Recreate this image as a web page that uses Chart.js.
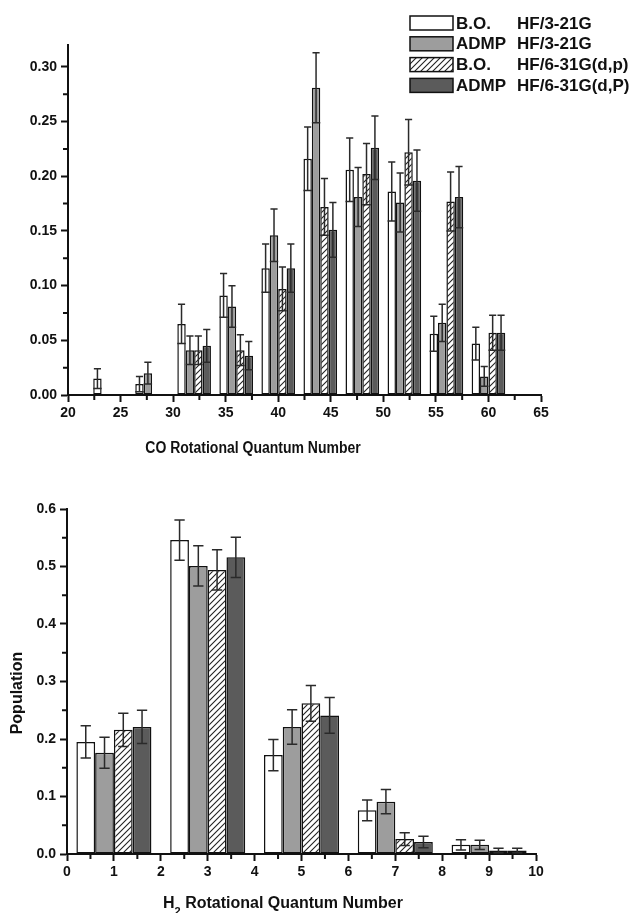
<!DOCTYPE html>
<html>
<head>
<meta charset="utf-8">
<script src="https://cdn.jsdelivr.net/npm/chart.js@4"></script>
<style>
  html, body { margin: 0; padding: 0; background: #fff; }
  #wrap { position: relative; width: 631px; height: 913px; }
  canvas { position: absolute; left: 0; }
  #coCanvas { top: 0; }
  #h2Canvas { top: 460px; }
</style>
</head>
<body>
<div id="wrap">
  <canvas id="coCanvas" width="631" height="460"></canvas>
  <canvas id="h2Canvas" width="631" height="453"></canvas>
</div>
<script>
// ---- data ----
const methodLabels = ["B.O.", "ADMP", "B.O.", "ADMP"];
const basisLabels = ["HF/3-21G", "HF/3-21G", "HF/6-31G(d,p)", "HF/6-31G(d,P)"];

// CO rotational distribution (top panel)
const coJ = [24, 28, 32, 36, 40, 44, 48, 52, 56, 60];
const coBO321 = [0.015, 0.010, 0.065, 0.091, 0.116, 0.216, 0.206, 0.186, 0.056, 0.047];
const coBO321Err = [0.009, 0.007, 0.018, 0.020, 0.022, 0.029, 0.029, 0.027, 0.016, 0.015];
const coADMP321 = [null, 0.020, 0.041, 0.081, 0.146, 0.281, 0.181, 0.176, 0.066, 0.017];
const coADMP321Err = [null, 0.010, 0.013, 0.019, 0.024, 0.032, 0.027, 0.027, 0.017, 0.009];
const coBO631 = [null, null, 0.041, 0.041, 0.097, 0.172, 0.202, 0.222, 0.177, 0.057];
const coBO631Err = [null, null, 0.013, 0.014, 0.020, 0.026, 0.028, 0.030, 0.027, 0.016];
const coADMP631 = [null, null, 0.045, 0.036, 0.116, 0.151, 0.226, 0.196, 0.181, 0.057];
const coADMP631Err = [null, null, 0.015, 0.013, 0.022, 0.025, 0.029, 0.028, 0.028, 0.016];
const coXTicks = [20, 25, 30, 35, 40, 45, 50, 55, 60, 65];
const coYTicks = [0, 0.05, 0.10, 0.15, 0.20, 0.25, 0.30];
const coYTickLabels = ["0.00", "0.05", "0.10", "0.15", "0.20", "0.25", "0.30"];

// H2 rotational distribution (bottom panel)
const h2J = [1, 3, 5, 7, 9];
const h2BO321 = [0.195, 0.546, 0.172, 0.076, 0.016];
const h2BO321Err = [0.028, 0.035, 0.027, 0.018, 0.009];
const h2ADMP321 = [0.176, 0.501, 0.221, 0.091, 0.016];
const h2ADMP321Err = [0.027, 0.035, 0.030, 0.021, 0.008];
const h2BO631 = [0.216, 0.494, 0.262, 0.026, 0.006];
const h2BO631Err = [0.029, 0.035, 0.031, 0.011, 0.004];
const h2ADMP631 = [0.221, 0.516, 0.241, 0.021, 0.006];
const h2ADMP631Err = [0.029, 0.035, 0.031, 0.010, 0.004];
const h2XTicks = [0, 1, 2, 3, 4, 5, 6, 7, 8, 9, 10];
const h2YTicks = [0, 0.1, 0.2, 0.3, 0.4, 0.5, 0.6];
const h2YTickLabels = ["0.0", "0.1", "0.2", "0.3", "0.4", "0.5", "0.6"];

// ---- look ----
const INK = "#111";
const FONT = "'Liberation Sans', Arial, sans-serif";
Chart.defaults.font.family = FONT;
Chart.defaults.font.weight = "bold";
Chart.defaults.font.size = 14;
Chart.defaults.color = INK;

function hatch(ctx) {
  const c = document.createElement("canvas");
  c.width = 6; c.height = 6;
  const g = c.getContext("2d");
  g.fillStyle = "#fff";
  g.fillRect(0, 0, 6, 6);
  g.strokeStyle = "#222";
  g.lineWidth = 1.1;
  g.beginPath();
  g.moveTo(-1, 7); g.lineTo(7, -1);
  g.moveTo(-1, 1); g.lineTo(1, -1);
  g.moveTo(5, 7); g.lineTo(7, 5);
  g.stroke();
  return ctx.createPattern(c, "repeat");
}

function fills(ctx) {
  return ["#ffffff", "#9d9d9d", hatch(ctx), "#5b5b5b"];
}

function makeDatasets(ctx, xs, series, errs) {
  const f = fills(ctx);
  return series.map((vals, k) => ({
    label: methodLabels[k] + " " + basisLabels[k],
    data: xs.map((x, i) => ({ x: x, y: vals[i] })),
    errors: errs[k],
    backgroundColor: f[k],
    borderColor: INK,
    borderWidth: 1.5,
    borderSkipped: false
  }));
}

// error bars drawn from each bar's own element
const errorBars = {
  id: "errorBars",
  afterDatasetsDraw(chart, args, opts) {
    const ctx = chart.ctx, y = chart.scales.y;
    ctx.save();
    ctx.strokeStyle = "#2a2a2a";
    ctx.lineWidth = 1.5;
    chart.data.datasets.forEach((ds, di) => {
      const meta = chart.getDatasetMeta(di);
      ds.data.forEach((p, i) => {
        const e = ds.errors[i];
        if (p.y == null || e == null) return;
        const bar = meta.data[i];
        const x = bar.x, w = bar.width;
        const hi = y.getPixelForValue(p.y + e);
        const lo = y.getPixelForValue(Math.max(0, p.y - e));
        const c = w * opts.cap / 2;
        ctx.beginPath();
        ctx.moveTo(x, lo); ctx.lineTo(x, hi);
        ctx.moveTo(x - c, hi); ctx.lineTo(x + c, hi);
        if (opts.lowFull) { ctx.moveTo(x - w / 2, lo); ctx.lineTo(x + w / 2, lo); }
        else { ctx.moveTo(x - c, lo); ctx.lineTo(x + c, lo); }
        ctx.stroke();
      });
    });
    ctx.restore();
  }
};

// small in-between tick marks on both axes
const minorTicks = {
  id: "minorTicks",
  afterDraw(chart, args, opts) {
    const ctx = chart.ctx, sx = chart.scales.x, sy = chart.scales.y;
    ctx.save();
    ctx.strokeStyle = INK;
    ctx.lineWidth = 2;
    ctx.beginPath();
    const nx = Math.round((opts.x[1] - opts.x[0]) / opts.x[2]);
    for (let i = 0; i <= nx; i++) {
      const px = sx.getPixelForValue(opts.x[0] + i * opts.x[2]);
      ctx.moveTo(px, sy.bottom); ctx.lineTo(px, sy.bottom + 5);
    }
    const ny = Math.round((opts.y[1] - opts.y[0]) / opts.y[2]);
    for (let i = 0; i <= ny; i++) {
      const py = sy.getPixelForValue(opts.y[0] + i * opts.y[2]);
      ctx.moveTo(sx.left, py); ctx.lineTo(sx.left - 5, py);
    }
    ctx.stroke();
    ctx.restore();
  }
};

// free-placed captions (axis titles, legend)
const captions = {
  id: "captions",
  afterDraw(chart, args, opts) {
    const ctx = chart.ctx;
    ctx.save();
    ctx.fillStyle = INK;
    ctx.textBaseline = "middle";
    (opts.items || []).forEach(t => {
      ctx.save();
      ctx.translate(t.x, t.y);
      if (t.rotate) ctx.rotate(t.rotate);
      if (t.squeeze) ctx.scale(t.squeeze, 1);
      const parts = t.parts || [{ text: t.text }];
      let total = 0;
      parts.forEach(p => {
        ctx.font = "bold " + (p.sub ? 11 : 16) + "px " + FONT;
        total += ctx.measureText(p.text).width;
      });
      let cx = -total / 2;
      ctx.textAlign = "left";
      parts.forEach(p => {
        ctx.font = "bold " + (p.sub ? 11 : 16) + "px " + FONT;
        ctx.fillText(p.text, cx, p.sub ? 8 : 0);
        cx += ctx.measureText(p.text).width;
      });
      ctx.restore();
    });
    if (opts.legend) {
      const L = opts.legend;
      chart.data.datasets.forEach((ds, k) => {
        const top = L.y + k * L.pitch;
        ctx.fillStyle = ds.backgroundColor;
        ctx.fillRect(L.x, top, L.w, L.h);
        ctx.strokeStyle = INK;
        ctx.lineWidth = 1.5;
        ctx.strokeRect(L.x, top, L.w, L.h);
        ctx.fillStyle = INK;
        ctx.font = "bold 17px " + FONT;
        ctx.textAlign = "left";
        ctx.fillText(methodLabels[k], L.x + L.w + 3, top + L.h / 2 + 1);
        ctx.fillText(basisLabels[k], L.col2, top + L.h / 2 + 1);
      });
    }
    ctx.restore();
  }
};

function axisX(min, max, values, height) {
  return {
    type: "linear", min: min, max: max, offset: false,
    afterBuildTicks: s => { s.ticks = values.map(v => ({ value: v })); },
    afterFit: s => { s.height = height; },
    border: { color: INK, width: 2 },
    grid: { display: true, offset: false, drawOnChartArea: false, drawTicks: true, tickLength: 7, tickWidth: 2, tickColor: INK },
    ticks: { autoSkip: false, maxRotation: 0, padding: 3, font: { size: 14, weight: "bold" } }
  };
}

function axisY(max, values, labels, width) {
  return {
    min: 0, max: max,
    afterBuildTicks: s => { s.ticks = values.map(v => ({ value: v })); },
    afterFit: s => { s.width = width; },
    border: { color: INK, width: 2 },
    grid: { display: true, drawOnChartArea: false, drawTicks: true, tickLength: 7, tickWidth: 2, tickColor: INK },
    ticks: { autoSkip: false, padding: 4, font: { size: 14, weight: "bold" }, callback: (v, i) => labels[i] }
  };
}

// ---- top panel: CO ----
const coCtx = document.getElementById("coCanvas").getContext("2d");
new Chart(coCtx, {
  type: "bar",
  data: {
    datasets: makeDatasets(coCtx, coJ,
      [coBO321, coADMP321, coBO631, coADMP631],
      [coBO321Err, coADMP321Err, coBO631Err, coADMP631Err])
  },
  options: {
    responsive: false,
    animation: false,
    categoryPercentage: 0.8,
    barPercentage: 1.0,
    layout: { padding: { top: 45, right: 90, left: 0, bottom: 0 } },
    scales: {
      x: axisX(20, 65, coXTicks, 65),
      y: axisY(0.32, coYTicks, coYTickLabels, 68)
    },
    plugins: {
      legend: { display: false },
      tooltip: { enabled: false },
      errorBars: { cap: 0.85, lowFull: true },
      minorTicks: { x: [22.5, 62.5, 5], y: [0.025, 0.275, 0.05] },
      captions: {
        items: [{ text: "CO Rotational Quantum Number", x: 253, y: 449, squeeze: 0.875 }],
        legend: { x: 410, y: 16, w: 43, h: 14, pitch: 20.8, col2: 517 }
      }
    }
  },
  plugins: [errorBars, minorTicks, captions]
});

// ---- bottom panel: H2 ----
const h2Ctx = document.getElementById("h2Canvas").getContext("2d");
new Chart(h2Ctx, {
  type: "bar",
  data: {
    datasets: makeDatasets(h2Ctx, h2J,
      [h2BO321, h2ADMP321, h2BO631, h2ADMP631],
      [h2BO321Err, h2ADMP321Err, h2BO631Err, h2ADMP631Err])
  },
  options: {
    responsive: false,
    animation: false,
    // group spacing is 2 J units but the tick spacing of 1 sets the ruler
    categoryPercentage: 1.6,
    barPercentage: 1.0,
    layout: { padding: { top: 49, right: 95, left: 0, bottom: 0 } },
    scales: {
      x: axisX(0, 10, h2XTicks, 59),
      y: axisY(0.6, h2YTicks, h2YTickLabels, 67)
    },
    plugins: {
      legend: { display: false },
      tooltip: { enabled: false },
      errorBars: { cap: 0.55, lowFull: false },
      minorTicks: { x: [0.5, 9.5, 1], y: [0.05, 0.55, 0.1] },
      captions: {
        items: [
          { text: "Population", x: 18, y: 233, rotate: -Math.PI / 2 },
          { parts: [{ text: "H" }, { text: "2", sub: true }, { text: " Rotational Quantum Number" }], x: 283, y: 444 }
        ]
      }
    }
  },
  plugins: [errorBars, minorTicks, captions]
});
</script>
</body>
</html>
